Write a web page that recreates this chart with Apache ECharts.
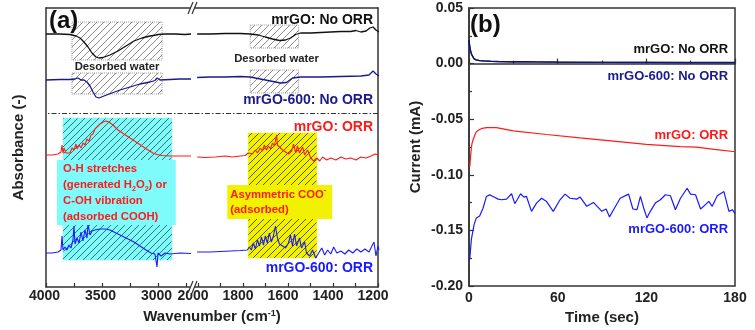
<!DOCTYPE html>
<html><head><meta charset="utf-8">
<script src="https://cdn.jsdelivr.net/npm/echarts@6/dist/echarts.min.js"></script>
<style>html,body{margin:0;padding:0;background:#fff}#c{width:755px;height:330px}</style>
</head><body><div id="c"></div>
<script>
// ---------- Panel (a): FTIR spectra, [wavenumber, offset absorbance (a.u.)] ----------
const mrgoNoOrrHigh = [[4000,253],[3875,253],[3786,252.5],[3732,251],[3696,249],[3661,245],[3625,240],[3589,234],[3554,230],[3527,229],[3491,229.5],[3429,232],[3357,236],[3286,241],[3214,246],[3143,249],[3071,251],[3018,252],[3010,254],[3005,251],[3000,252.5],[2937,253],[2848,253],[2759,252.5],[2705,253]];
const mrgoNoOrrLow = [[2004,253],[1946,253],[1879,253.5],[1812,253.5],[1768,253],[1732,252],[1701,250],[1669,248],[1638,246.5],[1611,247],[1589,249],[1566,252.5],[1544,254],[1499,254],[1455,254.5],[1410,255],[1365,255.5],[1321,255.5],[1298,256.5],[1276,255],[1253,256],[1236,259],[1222,260],[1209,257],[1196,255]];
const mrgo600NoOrrHigh = [[4000,207],[3875,207.5],[3786,207.5],[3741,208],[3714,209],[3687,207],[3661,207],[3634,205],[3607,201],[3580,195],[3554,190],[3527,189],[3482,191],[3411,194],[3339,197],[3250,200],[3161,203],[3071,205],[3027,206.5],[3009,209],[2982,207],[2893,207.5],[2804,208],[2705,208]];
const mrgo600NoOrrLow = [[2004,209.5],[1946,210],[1879,210],[1812,210.5],[1768,210],[1723,208],[1678,206],[1634,204],[1607,204.5],[1580,209],[1544,210],[1455,210],[1365,210.5],[1276,211],[1240,212],[1222,216],[1209,213],[1196,211]];
const mrgoOrrHigh = [[4000,132],[3946,132],[3893,133],[3866,135],[3857,142],[3848,134],[3839,139],[3821,134],[3804,136],[3786,134],[3768,139],[3750,137],[3732,143],[3723,138],[3705,142],[3687,139],[3670,144],[3652,142],[3634,148],[3616,146],[3598,152],[3580,153],[3563,158],[3545,160],[3518,163],[3491,165],[3464,166],[3438,165],[3402,162],[3357,157],[3304,153],[3250,149],[3196,145],[3143,141],[3089,137],[3045,134],[3009,132.5],[2964,131.5],[2893,131],[2804,131],[2705,131]];
const mrgoOrrLow = [[2004,130],[1969,129.5],[1924,130],[1879,131],[1848,130],[1812,131],[1790,131.5],[1777,134],[1759,133],[1745,137],[1736,134],[1723,139],[1714,136],[1705,142],[1696,137],[1687,141],[1678,138],[1669,144],[1660,141],[1651,152],[1647,142],[1638,140],[1624,137],[1611,135],[1598,133],[1584,136],[1575,143],[1566,134],[1558,141],[1549,134],[1535,140],[1526,132],[1513,137],[1499,129],[1486,126],[1472,129],[1459,126],[1446,130],[1428,127],[1410,129],[1387,127],[1365,130],[1343,128],[1321,129],[1298,127],[1276,130],[1253,129],[1231,131],[1213,133],[1196,132]];
const mrgo600OrrHigh = [[4000,34],[3946,34],[3893,35],[3866,37],[3857,51],[3848,37],[3830,40],[3813,37],[3795,42],[3777,39],[3759,47],[3750,61],[3741,43],[3723,49],[3705,44],[3687,55],[3670,46],[3652,57],[3634,49],[3625,63],[3607,52],[3589,56],[3563,57],[3518,58],[3473,58],[3429,57],[3375,54],[3321,51],[3268,48],[3214,45],[3161,41],[3107,37],[3063,34],[3027,33],[3009,20],[3000,34],[2973,31],[2937,34],[2893,33],[2804,34],[2705,33.5]];
const mrgo600OrrLow = [[2004,35],[1946,35],[1901,35.5],[1857,36],[1812,36.5],[1781,37],[1772,40],[1763,37],[1754,44],[1745,38],[1736,47],[1727,41],[1718,50],[1709,42],[1701,51],[1692,44],[1683,54],[1674,45],[1665,51],[1656,61],[1647,49],[1638,43],[1624,41],[1611,39],[1598,44],[1589,52],[1580,41],[1571,53],[1562,41],[1549,49],[1540,39],[1526,45],[1518,34],[1504,31],[1491,37],[1477,29],[1464,34],[1450,39],[1437,32],[1424,37],[1410,33],[1397,40],[1383,34],[1365,36],[1347,33],[1330,37],[1312,34],[1294,38],[1276,35],[1258,38],[1240,35],[1227,41],[1218,45],[1209,31],[1200,41],[1196,37]];
const xTicksHigh = [4000,3750,3500,3250,3000,2750];
const xLabelsHigh = [4000,3500,3000];
const xTicksLow = [2000,1900,1800,1700,1600,1500,1400,1300,1200];
const xLabelsLow = [2000,1800,1600,1400,1200];
// shaded regions [w1, w2, yTop, yBottom]
const waterHighBoxes = [[3768,2964,265,227],[3768,2964,214,193]];
const waterLowBoxes = [[1768,1553,262,239],[1768,1553,217,194]];
const ohBox = [3848,2875,169,27];
const cooBox = [1777,1472,154,29];
const separatorLevel = 174;

// ---------- Panel (b): chronoamperometry, [time s, current mA] ----------
const tNoOrr = [0,0.5,1,1.6,2,3.4,4,5,6,7.2,10,15,20,30,45,60,90,120,150,180];
const iMrgoNoOrr = [0.021,0.016,0.012,0.0087,0.0072,0.0045,0.004,0.0033,0.003,0.0027,0.0024,0.0021,0.0019,0.0017,0.0015,0.0014,0.0012,0.0011,0.001,0.001];
const iMrgo600NoOrr = [0.0205,0.015,0.0115,0.0087,0.007,0.0042,0.0038,0.0032,0.0029,0.0027,0.0024,0.002,0.0018,0.0017,0.0015,0.0013,0.0011,0.001,0.0009,0.0009];
const tMrgoOrr = [0.5,1,1.5,2,2.7,4,5,7.2,9,11.8,18.6,30,52.5,75,97.8,120,143,154,166,180];
const iMrgoOrr = [-0.093,-0.085,-0.077,-0.072,-0.0687,-0.064,-0.0613,-0.0592,-0.0582,-0.0575,-0.0575,-0.0604,-0.0637,-0.0667,-0.0696,-0.0726,-0.0747,-0.075,-0.0771,-0.0792];
const tMrgo600Orr = [0.5,1.6,3.4,5,7.2,9.5,11.8,14,16.3,17.4,19.7,22,25.4,28.8,31,32.6,34.9,37.1,38.9,42.3,45.7,49.1,52.5,57,61.6,65,68.4,72.9,75.2,79.7,84.2,89.9,92.8,95.1,97.8,102.3,108,110.9,113.7,116,118.2,120.4,122.7,126.1,129.5,132.9,136.3,139.7,143.1,147.6,149.9,153.3,156.7,160,162.3,164.6,168,172.5,175.9,178.2,180];
const iMrgo600Orr = [-0.176,-0.158,-0.145,-0.1387,-0.137,-0.13,-0.1194,-0.118,-0.1194,-0.118,-0.1218,-0.1224,-0.1218,-0.117,-0.1259,-0.1224,-0.117,-0.12,-0.1194,-0.1328,-0.1254,-0.121,-0.124,-0.1328,-0.1224,-0.1173,-0.121,-0.1218,-0.12,-0.1283,-0.1248,-0.1328,-0.1307,-0.1378,-0.1313,-0.121,-0.1173,-0.1307,-0.1313,-0.1194,-0.1298,-0.1387,-0.1328,-0.1254,-0.1224,-0.1179,-0.1188,-0.1313,-0.121,-0.112,-0.1173,-0.1179,-0.1307,-0.1268,-0.1238,-0.1283,-0.1188,-0.115,-0.1328,-0.1313,-0.1348];
const yTicksB = {min:-0.2, max:0.05, step:0.05};
const xTicksB = {min:0, max:180, step:60};

// ---------- layout & style ----------
const FF = "'Liberation Sans', Arial, sans-serif";
const A_L = 46, BRK = 193, A_R = 378, TOP = 8, A_BOT = 287;
const B_L = 469, B_R = 735, B_BOT = 288;
const AX = '#333';
const C_BLACK = '#111', C_NAVY = '#1a1a8a', C_RED = '#ff1a1a', C_BLUE = '#1a1aff';

function hatch(bg, line) {
  const c = document.createElement('canvas');
  c.width = c.height = 7;
  const g = c.getContext('2d');
  if (bg) { g.fillStyle = bg; g.fillRect(0, 0, 7, 7); }
  g.strokeStyle = line; g.lineWidth = 1;
  g.beginPath();
  g.moveTo(-1, 8); g.lineTo(8, -1);
  g.moveTo(-1, 1); g.lineTo(1, -1);
  g.moveTo(6, 8); g.lineTo(8, 6);
  g.stroke();
  return c;
}
const greyHatch = {image: hatch(null, 'rgba(90,90,90,0.7)'), repeat: 'repeat'};
const cyanHatch = {image: hatch('#80fbfb', 'rgba(20,60,60,0.7)'), repeat: 'repeat'};
const yellowHatch = {image: hatch('#f2f200', 'rgba(40,40,0,0.75)'), repeat: 'repeat'};

function boxes(list, fill, border) {
  return list.map(b => [
    {xAxis: b[0], yAxis: b[2], itemStyle: {color: fill, borderColor: border, borderWidth: 1, borderType: 'dotted'}},
    {xAxis: b[1], yAxis: b[3]}
  ]);
}
const tickLabel = {fontFamily: FF, fontWeight: 'bold', fontSize: 14, color: '#222', formatter: v => String(v)};
const axLine = {show: true, lineStyle: {color: AX, width: 1.5}};
const sep = {silent: true, symbol: ['none','none'], label: {show: false},
  lineStyle: {type: [5,2,1.5,2], color: '#333', width: 1.1}, data: [{yAxis: separatorLevel}]};

function spec(name, data, xi, yi, color, w) {
  return {name, type: 'line', xAxisIndex: xi, yAxisIndex: yi, data, symbol: 'none',
    lineStyle: {color, width: w}, z: 3, silent: true};
}
const zip = (a, b) => a.map((v, i) => [v, b[i]]);

const chart = echarts.init(document.getElementById('c'), null, {renderer: 'canvas'});
const option = {
  animation: false,
  backgroundColor: '#fff',
  grid: [
    {left: A_L, top: TOP, width: BRK - A_L, height: A_BOT - TOP},
    {left: BRK, top: TOP, width: A_R - BRK, height: A_BOT - TOP},
    {left: B_L, top: TOP, width: B_R - B_L, height: B_BOT - TOP, show: true, borderColor: AX, borderWidth: 1.5}
  ],
  xAxis: [
    {gridIndex: 0, type: 'value', inverse: true, min: 2687.5, max: 4000, position: 'bottom',
      axisLine: axLine, splitLine: {show: false},
      axisTick: {inside: true, length: 4, customValues: xTicksHigh, lineStyle: {color: AX, width: 1.2}},
      axisLabel: Object.assign({}, tickLabel, {customValues: xLabelsHigh, margin: 2, padding: [0, 3, 0, 0]})},
    {gridIndex: 0, type: 'value', inverse: true, min: 2687.5, max: 4000, position: 'top',
      axisLine: axLine, axisTick: {show: false}, axisLabel: {show: false}, splitLine: {show: false}},
    {gridIndex: 1, type: 'value', inverse: true, min: 1200, max: 2022.35, position: 'bottom',
      axisLine: axLine, splitLine: {show: false},
      axisTick: {inside: true, length: 4, customValues: xTicksLow, lineStyle: {color: AX, width: 1.2}},
      axisLabel: Object.assign({}, tickLabel, {customValues: xLabelsLow, margin: 2, padding: [0, 10, 0, 0]})},
    {gridIndex: 1, type: 'value', inverse: true, min: 1200, max: 2022.35, position: 'top',
      axisLine: axLine, axisTick: {show: false}, axisLabel: {show: false}, splitLine: {show: false}},
    {gridIndex: 2, type: 'value', min: xTicksB.min, max: xTicksB.max, interval: xTicksB.step,
      axisLine: axLine, splitLine: {show: false},
      axisTick: {inside: true, length: 5, lineStyle: {color: AX, width: 1.2}},
      minorTick: {show: true, splitNumber: 2, length: 3, lineStyle: {color: AX, width: 1.2}},
      axisLabel: Object.assign({}, tickLabel, {margin: 5}),
      name: 'Time (sec)', nameLocation: 'middle', nameGap: 21,
      nameTextStyle: {fontFamily: FF, fontWeight: 'bold', fontSize: 15, color: '#222'}}
  ],
  yAxis: [
    {gridIndex: 0, type: 'value', min: 0, max: 279, axisLine: axLine, axisTick: {show: false},
      axisLabel: {show: false}, splitLine: {show: false},
      name: 'Absorbance (-)', nameLocation: 'middle', nameGap: 20,
      nameTextStyle: {fontFamily: FF, fontWeight: 'bold', fontSize: 15, color: '#222'}},
    {gridIndex: 1, type: 'value', min: 0, max: 279, position: 'right', axisLine: axLine,
      axisTick: {show: false}, axisLabel: {show: false}, splitLine: {show: false}},
    {gridIndex: 2, type: 'value', min: yTicksB.min, max: yTicksB.max, interval: yTicksB.step,
      axisLine: axLine, splitLine: {show: false},
      axisTick: {inside: true, length: 5, lineStyle: {color: AX, width: 1.2}},
      minorTick: {show: true, splitNumber: 2, length: 3, lineStyle: {color: AX, width: 1.2}},
      axisLabel: Object.assign({}, tickLabel, {margin: 6, formatter: v => (Math.abs(v) < 1e-9 ? 0 : v).toFixed(2)}),
      name: 'Current (mA)', nameLocation: 'middle', nameGap: 46,
      nameTextStyle: {fontFamily: FF, fontWeight: 'bold', fontSize: 15, color: '#222'}}
  ],
  series: [
    {type: 'line', xAxisIndex: 0, yAxisIndex: 0, data: mrgoNoOrrHigh, symbol: 'none', z: 1, silent: true,
      lineStyle: {opacity: 0},
      markArea: {silent: true, data: boxes(waterHighBoxes, greyHatch, '#999').concat(boxes([ohBox], cyanHatch, '#80fbfb'))},
      markLine: sep},
    {type: 'line', xAxisIndex: 2, yAxisIndex: 1, data: mrgoNoOrrLow, symbol: 'none', z: 1, silent: true,
      lineStyle: {opacity: 0},
      markArea: {silent: true, data: boxes(waterLowBoxes, greyHatch, '#999').concat(boxes([cooBox], yellowHatch, '#f2f200'))},
      markLine: sep},
    spec('mrGO: No ORR', mrgoNoOrrHigh, 0, 0, C_BLACK, 1.3),
    spec('mrGO: No ORR', mrgoNoOrrLow, 2, 1, C_BLACK, 1.3),
    spec('mrGO-600: No ORR', mrgo600NoOrrHigh, 0, 0, C_NAVY, 1.3),
    spec('mrGO-600: No ORR', mrgo600NoOrrLow, 2, 1, C_NAVY, 1.3),
    spec('mrGO: ORR', mrgoOrrHigh, 0, 0, C_RED, 1.1),
    spec('mrGO: ORR', mrgoOrrLow, 2, 1, C_RED, 1.1),
    spec('mrGO-600: ORR', mrgo600OrrHigh, 0, 0, C_BLUE, 1.1),
    spec('mrGO-600: ORR', mrgo600OrrLow, 2, 1, C_BLUE, 1.1),
    spec('mrGO: No ORR', zip(tNoOrr, iMrgoNoOrr), 4, 2, C_BLACK, 1.3),
    spec('mrGO-600: No ORR', zip(tNoOrr, iMrgo600NoOrr), 4, 2, '#10108a', 1.3),
    spec('mrGO: ORR', zip(tMrgoOrr, iMrgoOrr), 4, 2, C_RED, 1.2),
    spec('mrGO-600: ORR', zip(tMrgo600Orr, iMrgo600Orr), 4, 2, C_BLUE, 1.2)
  ]
};
chart.setOption(option);

// ---------- annotations anchored to data coordinates ----------
const PA = pt => chart.convertToPixel({xAxisIndex: 0, yAxisIndex: 0}, pt);
const PB = pt => chart.convertToPixel({xAxisIndex: 2, yAxisIndex: 1}, pt);
const PC = pt => chart.convertToPixel({xAxisIndex: 4, yAxisIndex: 2}, pt);

function txt(p, text, opts) {
  return Object.assign({type: 'text', x: p[0], y: p[1], z: 100, silent: true,
    style: Object.assign({text, fontFamily: FF, fontWeight: 'bold', fontSize: 14, fill: '#111',
      align: 'right', verticalAlign: 'middle'}, opts || {})});
}
const g = [];
// series labels panel (a)
g.push(txt(PB([1222, 267]), 'mrGO: No ORR', {fill: C_BLACK}));
g.push(txt(PB([1222, 187]), 'mrGO-600: No ORR', {fill: C_NAVY}));
g.push(txt(PB([1222, 160]), 'mrGO: ORR', {fill: C_RED}));
g.push(txt(PB([1222, 19]), 'mrGO-600: ORR', {fill: C_BLUE}));
// series labels panel (b)
g.push(txt(PC([175.3, 0.0125]), 'mrGO: No ORR', {fill: C_BLACK, fontSize: 13}));
g.push(txt(PC([175.3, -0.0116]), 'mrGO-600: No ORR', {fill: C_NAVY, fontSize: 13}));
g.push(txt(PC([175.3, -0.0643]), 'mrGO: ORR', {fill: C_RED, fontSize: 13}));
g.push(txt(PC([175.3, -0.149]), 'mrGO-600: ORR', {fill: C_BLUE, fontSize: 13}));
// region labels
g.push(txt(PA([3366, 220]), 'Desorbed water', {align: 'center', fontSize: 11.3, fill: '#222'}));
g.push(txt(PB([1651, 228]), 'Desorbed water', {align: 'center', fontSize: 11.3, fill: '#222'}));
g.push(txt(PA([3902, 127]), 'O-H stretches\n(generated H{s|2}O{s|2}) or\nC-OH vibration\n(adsorbed COOH)', {
  align: 'left', verticalAlign: 'top', fontSize: 11.3, fill: '#ff1a1a',
  backgroundColor: '#80fbfb', padding: [1, 9, 0, 6], lineHeight: 16,
  rich: {s: {fontSize: 7, fontWeight: 'bold', lineHeight: 8, verticalAlign: 'bottom', fill: '#ff1a1a', fontFamily: FF}}}));
g.push(txt(PB([1870, 102]), 'Asymmetric COO{p|-}\n(adsorbed)', {
  align: 'left', verticalAlign: 'top', fontSize: 11.3, fill: '#ff1a1a',
  backgroundColor: '#f2f200', padding: [2, 6, 2, 3], lineHeight: 15,
  rich: {p: {fontSize: 7, fontWeight: 'bold', lineHeight: 8, verticalAlign: 'top', fill: '#ff1a1a', fontFamily: FF}}}));
// panel tags
g.push(txt([A_L + 3, TOP + 13], '(a)', {align: 'left', fontSize: 24}));
g.push(txt([B_L + 1, TOP + 17], '(b)', {align: 'left', fontSize: 24}));
// x-axis title of panel (a)
g.push(txt([(A_L + A_R) / 2, A_BOT + 30], 'Wavenumber (cm{p|-1})', {align: 'center', fontSize: 15, fill: '#222',
  rich: {p: {fontSize: 9, fontWeight: 'bold', lineHeight: 9, verticalAlign: 'top', fill: '#222', fontFamily: FF}}}));
// axis break marks
[TOP, A_BOT].forEach(y => {
  g.push({type: 'polygon', z: 99, silent: true, shape: {points: [[BRK - 5, y + 6], [BRK, y - 6], [BRK + 4, y - 6], [BRK - 1, y + 6]]},
    style: {fill: '#fff'}});
  g.push({type: 'line', z: 100, silent: true, shape: {x1: BRK - 5, y1: y + 6, x2: BRK, y2: y - 6}, style: {stroke: AX, lineWidth: 1.2}});
  g.push({type: 'line', z: 100, silent: true, shape: {x1: BRK - 1, y1: y + 6, x2: BRK + 4, y2: y - 6}, style: {stroke: AX, lineWidth: 1.2}});
});
chart.setOption({graphic: g});
</script></body></html>
